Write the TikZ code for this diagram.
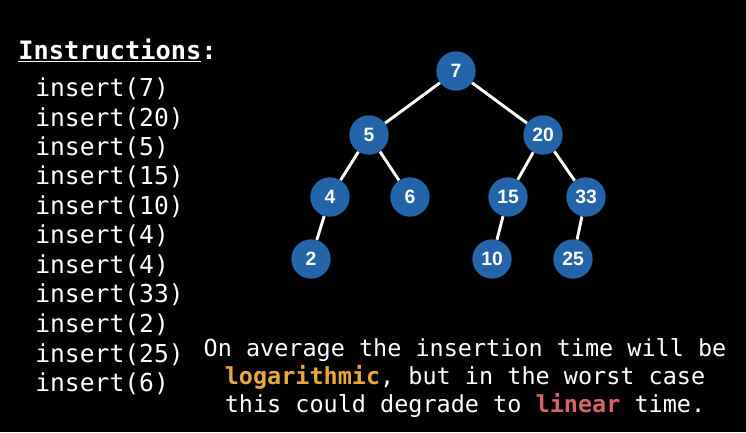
\documentclass[tikz,border=0pt]{standalone}
\usepackage{fontspec}
\setmainfont{Liberation Sans}
\setmonofont{DejaVu Sans Mono}
\usepackage{tikz}

\definecolor{keyblue}{RGB}{36,100,168}
\definecolor{logorange}{RGB}{232,168,62}
\definecolor{linred}{RGB}{212,100,104}

\begin{document}
\begin{tikzpicture}[x=0.75pt,y=-0.75pt,
  key/.style={circle,fill=keyblue,minimum size=29.5pt,inner sep=0pt,
    text=white,font=\fontsize{14.5}{16}\selectfont\bfseries},
  edge/.style={white,line width=2.2pt},
  instr/.style={anchor=base west,inner sep=0pt,text=white,
    font=\fontsize{18.5}{22}\selectfont\ttfamily}]
  \fill [black] (0,0) rectangle (746,432);
  \useasboundingbox (0,0) rectangle (746,432);
  \node (head) at (18,59) [anchor=base west,inner sep=0pt,text=white,
    font=\fontsize{19}{22}\selectfont\ttfamily\bfseries]
    {\underline{Instructions}:};
  \node (i1) at (35,96) [instr] {insert(7)};
  \node (i2) at (35,126) [instr] {insert(20)};
  \node (i3) at (35,155) [instr] {insert(5)};
  \node (i4) at (35,184.5) [instr] {insert(15)};
  \node (i5) at (35,214) [instr] {insert(10)};
  \node (i6) at (35,243.5) [instr] {insert(4)};
  \node (i7) at (35,273) [instr] {insert(4)};
  \node (i8) at (35,302.5) [instr] {insert(33)};
  \node (i9) at (35,332) [instr] {insert(2)};
  \node (i10) at (35,362) [instr] {insert(25)};
  \node (i11) at (35,391) [instr] {insert(6)};
  \node (k7) at (456,71) [key] {7};
  \node (k5) at (369,135) [key] {5};
  \node (k20) at (543,135) [key] {20};
  \node (k4) at (330,197) [key] {4};
  \node (k6) at (410,197) [key] {6};
  \node (k15) at (508,197) [key] {15};
  \node (k33) at (586,197) [key] {33};
  \node (k2) at (311,259) [key] {2};
  \node (k10) at (492,259) [key] {10};
  \node (k25) at (573,259) [key] {25};
  \draw [edge] (k7) -- (k5);
  \draw [edge] (k7) -- (k20);
  \draw [edge] (k5) -- (k4);
  \draw [edge] (k5) -- (k6);
  \draw [edge] (k20) -- (k15);
  \draw [edge] (k20) -- (k33);
  \draw [edge] (k4) -- (k2);
  \draw [edge] (k15) -- (k10);
  \draw [edge] (k33) -- (k25);
  \node (note) at (465,378) [align=center,inner sep=0pt,text=white,
    font=\fontsize{17.6}{21}\selectfont\ttfamily]
    {On average the insertion time will be\\
     \textcolor{logorange}{\bfseries logarithmic}, but in the worst case\\
     this could degrade to \textcolor{linred}{\bfseries linear} time.};
\end{tikzpicture}
\end{document}
